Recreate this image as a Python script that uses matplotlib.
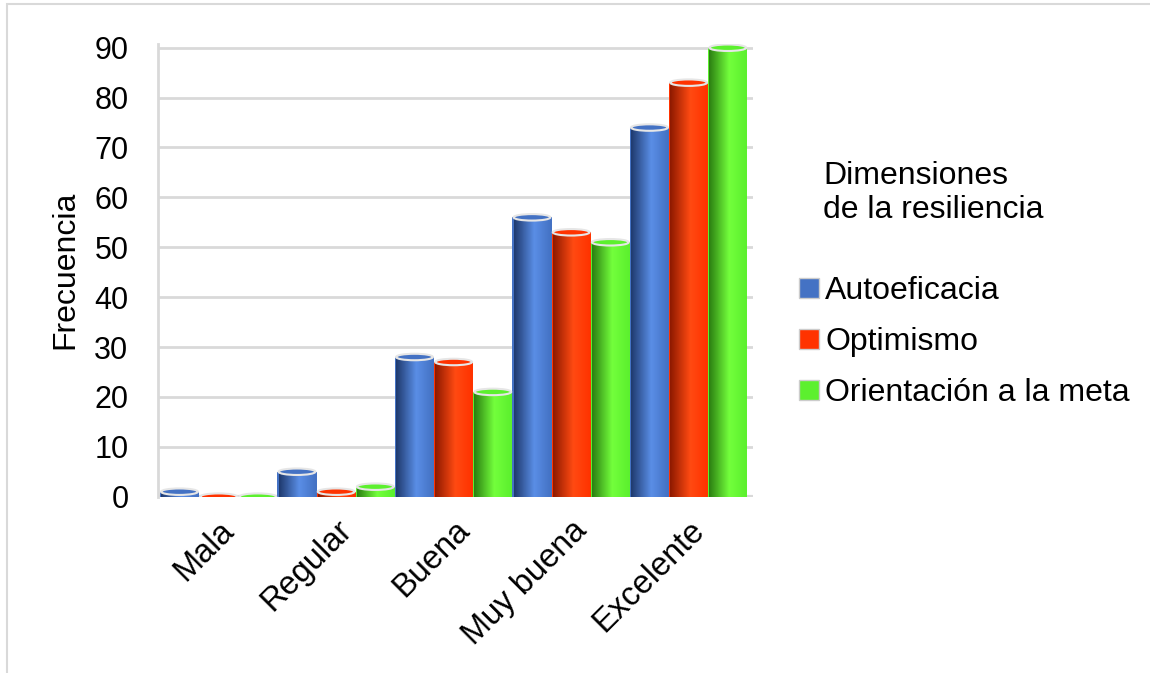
from matplotlib import pyplot as plt
from matplotlib.colors import LinearSegmentedColormap
from matplotlib.patches import Ellipse, Rectangle
from matplotlib.lines import Line2D
import numpy as np

plt.rcParams['font.family'] = ['Liberation Sans', 'DejaVu Sans']

categorias = ['Mala', 'Regular', 'Buena', 'Muy buena', 'Excelente']
series = ['Autoeficacia', 'Optimismo', 'Orientación a la meta']
autoeficacia = [1, 5, 28, 56, 74]
optimismo = [0, 1, 27, 53, 83]
orientacion = [0, 2, 21, 51, 90]
valores = [autoeficacia, optimismo, orientacion]

# dark / light / flat colours for the cylinder shading
tonos = [('#1f3a6e', '#5a8ee6', '#4472c4'),
         ('#8e1a00', '#ff4a12', '#ff3300'),
         ('#2c7f12', '#73ff3c', '#5cf02e')]

fig = plt.figure(figsize=(11.5, 6.73), dpi=100)
ax = fig.add_axes([0.137, 0.262, 0.518, 0.673])

x = np.arange(len(categorias))
width = 1 / 3

for i, (vals, nombre) in enumerate(zip(valores, series)):
    dark, light, flat = tonos[i]
    cmap = LinearSegmentedColormap.from_list(
        nombre, [(0, dark), (0.55, light), (1, flat)])
    grad = np.linspace(0, 1, 64).reshape(1, -1)
    bars = ax.bar(x + (i - 1) * width, vals, width=width, color=flat,
                  edgecolor='none', label=nombre, zorder=2)
    for b in bars:
        x0, w, h = b.get_x(), b.get_width(), b.get_height()
        if h > 0:
            ax.imshow(grad, cmap=cmap, aspect='auto', zorder=3,
                      extent=[x0 + 0.01, x0 + w - 0.01, 0, h],
                      interpolation='bilinear')
        top = Ellipse((x0 + w / 2, h), w - 0.02, 1.3, facecolor=flat,
                      edgecolor='#e6e6e6', linewidth=1.5, zorder=4)
        ax.add_patch(top)

ax.set_xlim(-0.52, 4.55)
ax.set_ylim(0, 90.8)
ax.set_yticks(range(0, 91, 10))
ax.yaxis.grid(True, color='#d9d9d9', linewidth=2)
ax.set_axisbelow(True)
for s in ['top', 'right', 'bottom']:
    ax.spines[s].set_visible(False)
ax.spines['left'].set_color('#d9d9d9')
ax.spines['left'].set_linewidth(2)
ax.axhline(0, color='#d9d9d9', linewidth=3, zorder=1)

ax.tick_params(axis='y', length=0, pad=21, labelsize=22)
ax.tick_params(axis='x', length=0, pad=13, labelsize=23.5)
ax.set_xticks(x)
ax.set_xticklabels(categorias, rotation=45, ha='right',
                   rotation_mode='anchor')
ax.set_ylabel('Frecuencia', fontsize=23, labelpad=10)

fig.text(0.716, 0.713, 'Dimensiones\nde la resiliencia', fontsize=23,
         va='center', ha='left', linespacing=1.15)
handles = [Line2D([], [], marker='s', linestyle='none', markersize=14,
                  markerfacecolor=t[2], markeredgecolor='#cccccc')
           for t in tonos]
fig.legend(handles, series, loc='center left', frameon=False, fontsize=23,
           bbox_to_anchor=(0.683, 0.492), handlelength=0.7,
           handletextpad=0.15, labelspacing=0.66, borderaxespad=0)

fig.add_artist(Rectangle((0.006, -0.01), 1.0, 1.004,
                         transform=fig.transFigure, fill=False,
                         edgecolor='#d9d9d9', linewidth=1.5))

plt.savefig('out.png')
